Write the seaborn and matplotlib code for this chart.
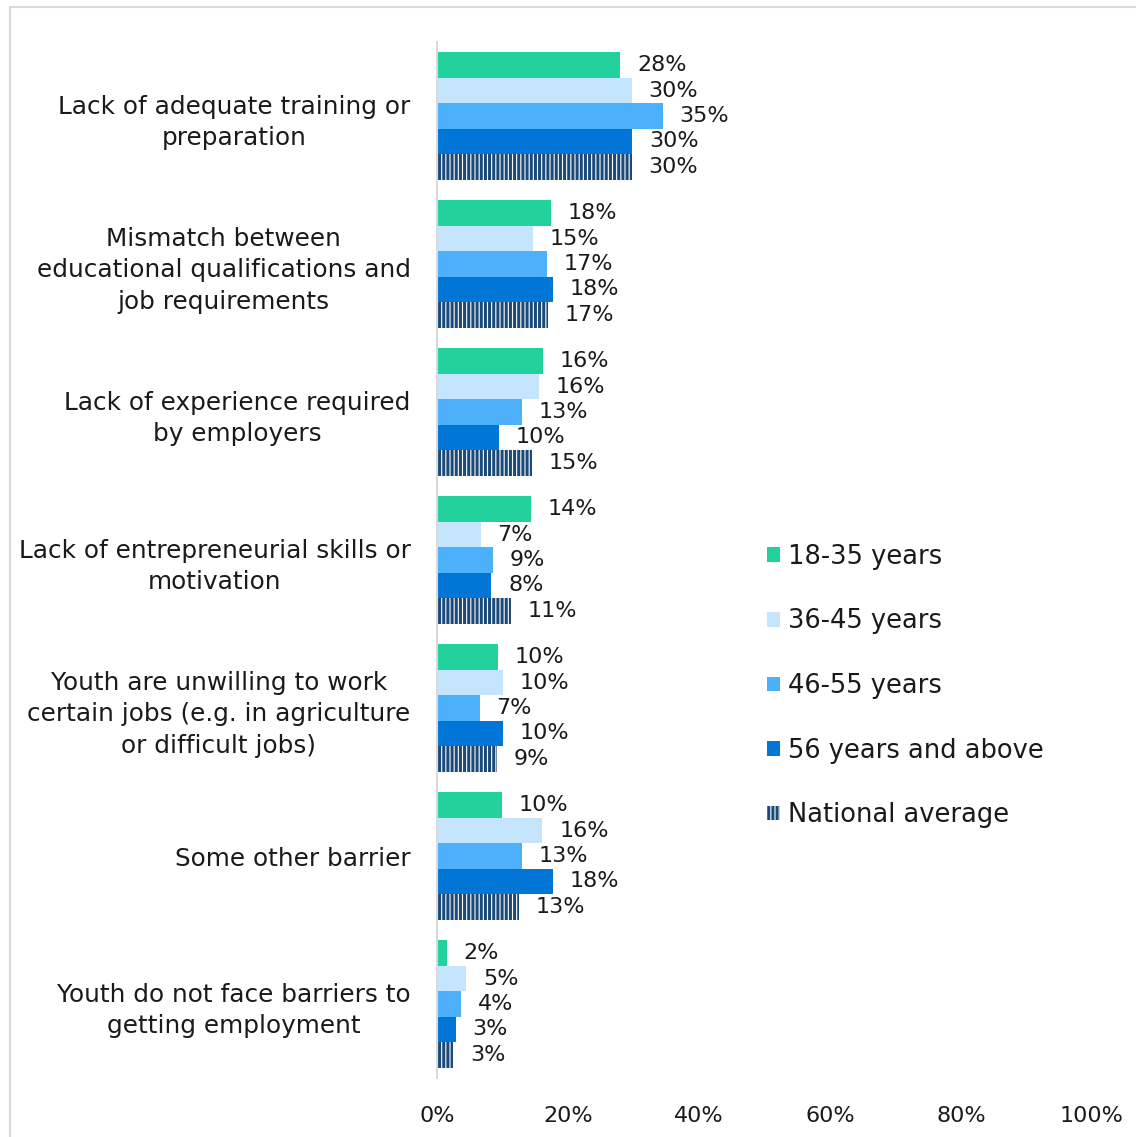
import matplotlib
matplotlib.use("Agg")
import matplotlib.pyplot as plt
import matplotlib.patches as mpatches
from matplotlib.lines import Line2D
import seaborn as sns
import pandas as pd

categories = [
    "Lack of adequate training or\npreparation",
    "Mismatch between\neducational qualifications and\njob requirements",
    "Lack of experience required\nby employers",
    "Lack of entrepreneurial skills or\nmotivation",
    "Youth are unwilling to work\ncertain jobs (e.g. in agriculture\nor difficult jobs)",
    "Some other barrier",
    "Youth do not face barriers to\ngetting employment",
]
series_names = ["18-35 years", "36-45 years", "46-55 years", "56 years and above", "National average"]
v_18_35 = [28.0, 17.4, 16.2, 14.4, 9.3, 9.9, 1.5]
v_36_45 = [29.7, 14.7, 15.6, 6.7, 10.1, 16.1, 4.5]
v_46_55 = [34.5, 16.8, 13.0, 8.6, 6.5, 13.0, 3.7]
v_56_up = [29.8, 17.7, 9.4, 8.3, 10.1, 17.7, 2.9]
v_nat = [29.7, 17.0, 14.5, 11.3, 9.2, 12.5, 2.5]
labels_18_35 = ["28%", "18%", "16%", "14%", "10%", "10%", "2%"]
labels_36_45 = ["30%", "15%", "16%", "7%", "10%", "16%", "5%"]
labels_46_55 = ["35%", "17%", "13%", "9%", "7%", "13%", "4%"]
labels_56_up = ["30%", "18%", "10%", "8%", "10%", "18%", "3%"]
labels_nat = ["30%", "17%", "15%", "11%", "9%", "13%", "3%"]
xticks = [0, 20, 40, 60, 80, 100]
xtick_labels = ["0%", "20%", "40%", "60%", "80%", "100%"]

colors = ["#23D19C", "#C5E4FD", "#4DB0FB", "#0276D6", "#1B4A7A"]
navy = "#1B4A7A"

all_vals = [v_18_35, v_36_45, v_46_55, v_56_up, v_nat]
all_labels = [labels_18_35, labels_36_45, labels_46_55, labels_56_up, labels_nat]
rows = []
for s, vals in zip(series_names, all_vals):
    for c, v in zip(categories, vals):
        rows.append({"category": c, "series": s, "value": v})
df = pd.DataFrame(rows)

sns.set_theme(style="white")
plt.rcParams["font.family"] = ["DejaVu Sans"]
plt.rcParams["hatch.linewidth"] = 2.2
plt.rcParams["hatch.color"] = navy
text_color = "#1a1a1a"
fs_text = 17.8
fs_leg = 18.5
fs_num = 16

fig = plt.figure(figsize=(11.36, 11.37), dpi=100)
ax = fig.add_axes([437 / 1136, 1 - 1078 / 1137, (1092 - 437) / 1136, (1078 - 42) / 1137])

sns.barplot(data=df, y="category", x="value", hue="series", order=categories,
            hue_order=series_names, palette=colors, orient="h", errorbar=None,
            width=0.86, dodge=True, ax=ax, legend=False, linewidth=0, saturation=1)

for p in ax.containers[4]:
    p.set_facecolor("white")
    p.set_edgecolor(navy)
    p.set_linewidth(0)
    p.set_hatch("||||")

for cont, labs in zip(ax.containers, all_labels):
    ax.bar_label(cont, labels=labs, padding=12, fontsize=fs_num, color=text_color)

ax.set_xlim(0, 100)
ax.set_xticks(xticks)
ax.set_xticklabels(xtick_labels, fontsize=fs_num, color=text_color)
ax.tick_params(axis="x", length=0, pad=20)
ax.tick_params(axis="y", length=0, pad=19)
ax.set_yticks(range(len(categories)))
ax.set_yticklabels(categories, fontsize=fs_text, color=text_color, multialignment="center",
                   linespacing=1.4)
ax.set_xlabel("")
ax.set_ylabel("")
for side in ["top", "right", "bottom"]:
    ax.spines[side].set_visible(False)
ax.spines["left"].set_color("#D9D9D9")
ax.spines["left"].set_linewidth(1.5)
ax.grid(False)

handles = []
for s, c in zip(series_names, colors):
    if s == "National average":
        handles.append(mpatches.Patch(facecolor="white", edgecolor=navy, hatch="||||", linewidth=0, label=s))
    else:
        handles.append(mpatches.Patch(facecolor=c, edgecolor=c, linewidth=0, label=s))
leg = fig.legend(handles=handles, loc="center left", bbox_to_anchor=(767 / 1136, 1 - 686 / 1137),
                 frameon=False, fontsize=fs_leg, handlelength=0.5, handleheight=0.5,
                 handletextpad=0.3, labelspacing=1.5, borderpad=0, borderaxespad=0)
for t in leg.get_texts():
    t.set_color(text_color)

# outer chart border (top and left visible)
fig.add_artist(Line2D([10 / 1136, 10 / 1136], [0, 1 - 7 / 1137], transform=fig.transFigure,
                      color="#D9D9D9", linewidth=1.5))
fig.add_artist(Line2D([10 / 1136, 1], [1 - 7 / 1137, 1 - 7 / 1137], transform=fig.transFigure,
                      color="#D9D9D9", linewidth=1.5))

fig.savefig("out.png", dpi=100)
